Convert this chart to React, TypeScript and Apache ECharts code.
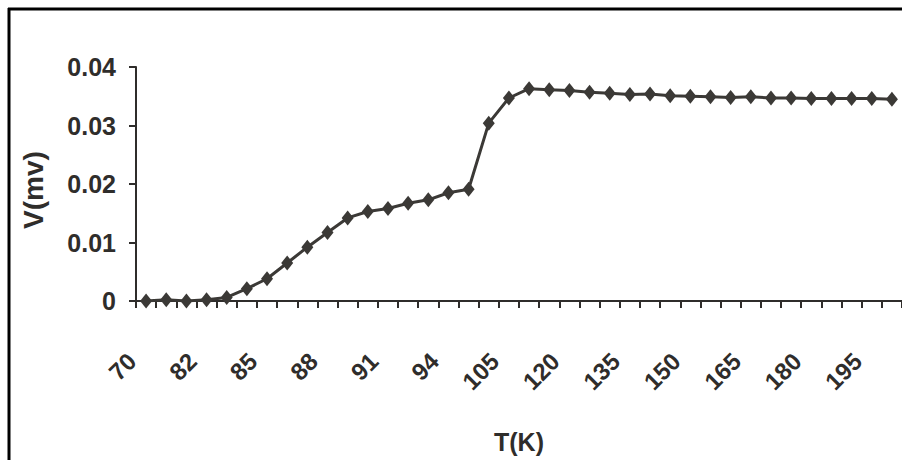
import React, { useEffect, useRef } from "react";
import * as echarts from "echarts";

const categories = [
  "70", "74", "78", "82", "83", "84", "85", "86", "87", "88", "89", "90", "91", "92", "93", "94",
  "95", "100", "105", "110", "115", "120", "125", "130", "135", "140", "145", "150", "155", "160",
  "165", "170", "175", "180", "185", "190", "195", "200",
];

const voltage = [
  0, 0.0002, 0, 0.0002, 0.0006, 0.0021, 0.0038, 0.0065, 0.0092, 0.0117, 0.0142, 0.0153, 0.0158,
  0.0167, 0.0173, 0.0185, 0.0191, 0.0304, 0.0347, 0.0363, 0.0361, 0.036, 0.0357, 0.0355, 0.0353,
  0.0354, 0.0351, 0.035, 0.0349, 0.0348, 0.0349, 0.0347, 0.0347, 0.0346, 0.0346, 0.0346, 0.0346,
  0.0345,
];

const yTicks = { min: 0, max: 0.04, interval: 0.01 };

export default function App() {
  const ref = useRef<HTMLDivElement>(null);
  useEffect(() => {
    if (!ref.current) return;
    const chart = echarts.init(ref.current, undefined, { renderer: "svg" });
    const ink = "#2f2d2b";
    const font = "Liberation Sans, Arial, sans-serif";
    chart.setOption({
      animation: false,
      backgroundColor: "#ffffff",
      textStyle: { fontFamily: font },
      grid: { left: 136, top: 67, width: 767, height: 234 },
      graphic: [
        { type: "line", shape: { x1: 8, y1: 9, x2: 902, y2: 9 }, style: { stroke: "#000", lineWidth: 3 } },
        { type: "line", shape: { x1: 9, y1: 8, x2: 9, y2: 460 }, style: { stroke: "#000", lineWidth: 3 } },
      ],
      xAxis: {
        type: "category",
        data: categories,
        boundaryGap: true,
        name: "T(K)",
        nameLocation: "middle",
        nameGap: 128,
        nameTextStyle: { color: ink, fontSize: 25, fontWeight: "bold", fontFamily: font },
        axisLine: { lineStyle: { color: ink, width: 2 } },
        axisTick: { show: true, interval: 0, length: 7, inside: false, lineStyle: { color: ink, width: 2 } },
        axisLabel: {
          interval: 2,
          rotate: 45,
          margin: 42,
          padding: [0, 20, 0, 0],
          color: ink,
          fontSize: 24,
          fontWeight: "bold",
          fontFamily: font,
        },
        splitLine: { show: false },
      },
      yAxis: {
        type: "value",
        min: yTicks.min,
        max: yTicks.max,
        interval: yTicks.interval,
        name: "V(mv)",
        nameLocation: "middle",
        nameGap: 89,
        nameRotate: 90,
        nameTextStyle: {
          color: ink,
          fontSize: 28,
          fontWeight: "bold",
          fontFamily: font,
          padding: [0, 12, 0, 0],
        },
        axisLine: { show: true, lineStyle: { color: ink, width: 2 } },
        axisTick: { show: true, length: 7, lineStyle: { color: ink, width: 2 } },
        axisLabel: { color: ink, fontSize: 25, fontWeight: "bold", margin: 20, fontFamily: font },
        splitLine: { show: false },
      },
      series: [
        {
          type: "line",
          data: voltage,
          symbol: "diamond",
          symbolSize: [12, 15],
          showSymbol: true,
          showAllSymbol: true,
          lineStyle: { color: "#3b3936", width: 3 },
          itemStyle: { color: "#3b3936" },
        },
      ],
    });
    return () => chart.dispose();
  }, []);
  return (
    <div
      ref={ref}
      style={{ position: "fixed", left: 0, top: 0, width: 902, height: 460, background: "#fff" }}
    />
  );
}
